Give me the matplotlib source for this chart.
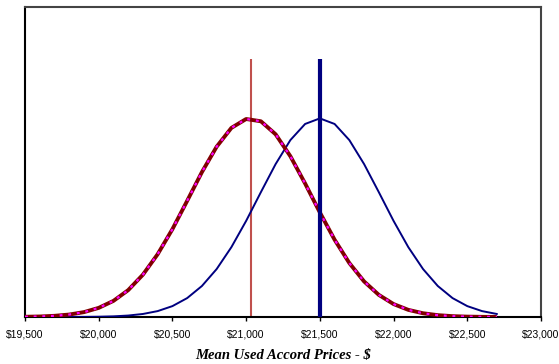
import numpy as np
import matplotlib
matplotlib.use("Agg")
import matplotlib.pyplot as plt
from matplotlib.ticker import FuncFormatter

# price grid ($) and density values
prices = [19500, 19600, 19700, 19800, 19900, 20000, 20100, 20200, 20300, 20400,
          20500, 20600, 20700, 20800, 20900, 21000, 21100, 21200, 21300, 21400,
          21500, 21600, 21700, 21800, 21900, 22000, 22100, 22200, 22300, 22400,
          22500, 22600, 22700]

# left curve (used Accord, mean near $21,030)
used_density = [1.1e-6, 2.5e-6, 5.7e-6, 1.19e-5, 2.36e-5, 4.42e-5, 7.8e-5, 1.30e-4,
                2.05e-4, 3.04e-4, 4.25e-4, 5.62e-4, 7.01e-4, 8.24e-4, 9.15e-4, 9.58e-4,
                9.47e-4, 8.84e-4, 7.78e-4, 6.46e-4, 5.06e-4, 3.74e-4, 2.61e-4, 1.72e-4,
                1.07e-4, 6.26e-5, 3.46e-5, 1.81e-5, 8.9e-6, 4.1e-6, 1.8e-6, 7.5e-7, 3.0e-7]

# right curve (claimed mean $21,500)
claim_density = [1e-8, 3e-8, 8e-8, 2.2e-7, 5.7e-7, 1.4e-6, 3.2e-6, 7.1e-6, 1.47e-5,
                 2.86e-5, 5.27e-5, 9.15e-5, 1.50e-4, 2.32e-4, 3.38e-4, 4.65e-4, 6.04e-4,
                 7.40e-4, 8.56e-4, 9.34e-4, 9.61e-4, 9.34e-4, 8.56e-4, 7.40e-4, 6.04e-4,
                 4.65e-4, 3.38e-4, 2.32e-4, 1.50e-4, 9.15e-5, 5.27e-5, 2.86e-5, 1.47e-5]

# vertical marker lines: mean prices and their height
sample_mean = 21030
claim_mean = 21500
marker_height = 0.00125

xticks = [19500, 20000, 20500, 21000, 21500, 22000, 22500, 23000]

fig = plt.figure(figsize=(5.59, 3.64), dpi=100)
ax = fig.add_axes([0.0447, 0.1291, 0.9231, 0.8517])

ax.plot(prices, claim_density, color="#000080", lw=1.4, zorder=3)
ax.plot(prices, used_density, color="#800000", lw=2.8, zorder=4, solid_capstyle="butt")
# magenta dots drawn over the dark red line
ax.plot(prices, used_density, color="#FF00FF", lw=1.6, ls=(0, (1.3, 2.6)), zorder=5)

ax.vlines(sample_mean, 0, marker_height, color="#C0504D", lw=1.5, zorder=2)
ax.vlines(claim_mean, 0, marker_height, color="#000080", lw=3.0, zorder=6)

ax.set_xlim(19500, 23000)
ax.set_ylim(0, 0.0015)
ax.set_xticks(xticks)
ax.xaxis.set_major_formatter(FuncFormatter(lambda v, p: f"${v:,.0f}"))
ax.set_yticks([])
ax.tick_params(axis="x", direction="out", length=3, width=1, pad=6,
               labelsize=7.5, labelfontfamily="Liberation Sans")

for side in ["left", "bottom"]:
    ax.spines[side].set_linewidth(1.5)
    ax.spines[side].set_color("black")
for side in ["top", "right"]:
    ax.spines[side].set_linewidth(1.5)
    ax.spines[side].set_color("#444444")

ax.set_xlabel("Mean Used Accord Prices - $", family="Liberation Serif",
              style="italic", weight="bold", fontsize=10.5, labelpad=6)

fig.savefig("out.png", dpi=100)
